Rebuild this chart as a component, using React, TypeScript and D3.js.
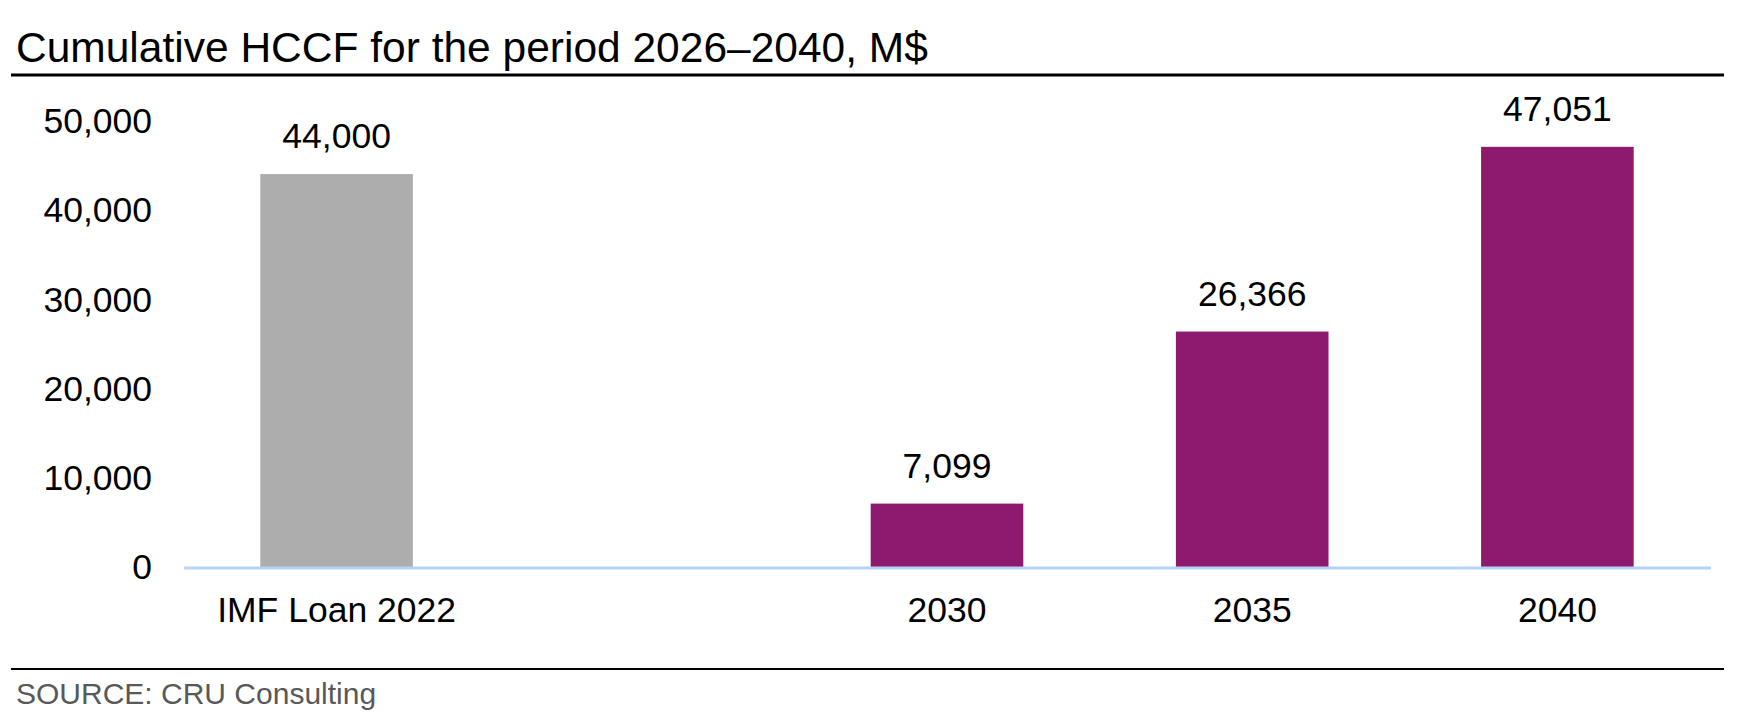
import React, { useEffect, useRef } from 'react';
import * as d3 from 'd3';

const categories = ['IMF Loan 2022', '', '2030', '2035', '2040'];
const values = [44000, null, 7099, 26366, 47051];
const barColors = ['#adadad', null, '#8e1a6e', '#8e1a6e', '#8e1a6e'];
const yTicks = [0, 10000, 20000, 30000, 40000, 50000];

const W = 1746;
const H = 723;
const FONT = "'Liberation Sans', Arial, sans-serif";

export default function App() {
  const svgRef = useRef<SVGSVGElement>(null);

  useEffect(() => {
    if (!svgRef.current) return;
    const svg = d3.select(svgRef.current);
    svg.selectAll('*').remove();

    const fmt = d3.format(',');

    const x = d3.scaleBand<string>()
      .domain(categories.map((c, i) => `${i}`))
      .range([184, 1710])
      .paddingInner(0.5)
      .paddingOuter(0.25);

    const y = d3.scaleLinear().domain([0, 50000]).range([567, 120.5]);

    // title
    svg.append('text')
      .attr('x', 16).attr('y', 62)
      .attr('font-family', FONT).attr('font-size', 42.5)
      .attr('fill', '#000')
      .text('Cumulative HCCF for the period 2026–2040, M$');

    svg.append('line')
      .attr('x1', 11).attr('x2', 1724).attr('y1', 75).attr('y2', 75)
      .attr('stroke', '#000').attr('stroke-width', 3);

    // y tick labels
    svg.append('g').selectAll('text').data(yTicks).enter().append('text')
      .attr('x', 152).attr('y', d => y(d))
      .attr('dy', '0.35em')
      .attr('text-anchor', 'end')
      .attr('font-family', FONT).attr('font-size', 35.5)
      .text(d => fmt(d));

    // bars
    const data = categories.map((c, i) => ({ key: `${i}`, label: c, v: values[i], color: barColors[i] }))
      .filter(d => d.v !== null) as { key: string; label: string; v: number; color: string }[];

    svg.append('g').selectAll('rect').data(data).enter().append('rect')
      .attr('x', d => x(d.key)!)
      .attr('width', x.bandwidth())
      .attr('y', d => y(d.v))
      .attr('height', d => y(0) - y(d.v))
      .attr('fill', d => d.color);

    // value labels
    svg.append('g').selectAll('text').data(data).enter().append('text')
      .attr('x', d => x(d.key)! + x.bandwidth() / 2)
      .attr('y', d => y(d.v) - 26)
      .attr('text-anchor', 'middle')
      .attr('font-family', FONT).attr('font-size', 35.5)
      .text(d => fmt(d.v));

    // axis line
    svg.append('line')
      .attr('x1', 184).attr('x2', 1711).attr('y1', y(0) + 1).attr('y2', y(0) + 1)
      .attr('stroke', '#b6d1f7').attr('stroke-width', 3);

    // category labels
    svg.append('g').selectAll('text').data(data).enter().append('text')
      .attr('x', d => x(d.key)! + x.bandwidth() / 2)
      .attr('y', 622)
      .attr('text-anchor', 'middle')
      .attr('font-family', FONT).attr('font-size', 35.5)
      .text(d => d.label);

    // footer
    svg.append('line')
      .attr('x1', 11).attr('x2', 1724).attr('y1', 669).attr('y2', 669)
      .attr('stroke', '#000').attr('stroke-width', 2);

    svg.append('text')
      .attr('x', 16).attr('y', 704)
      .attr('font-family', FONT).attr('font-size', 30)
      .attr('fill', '#595959')
      .text('SOURCE: CRU Consulting');
  }, []);

  return (
    <svg
      ref={svgRef}
      width={W}
      height={H}
      style={{ position: 'absolute', left: 0, top: 0, background: '#fff' }}
    />
  );
}
